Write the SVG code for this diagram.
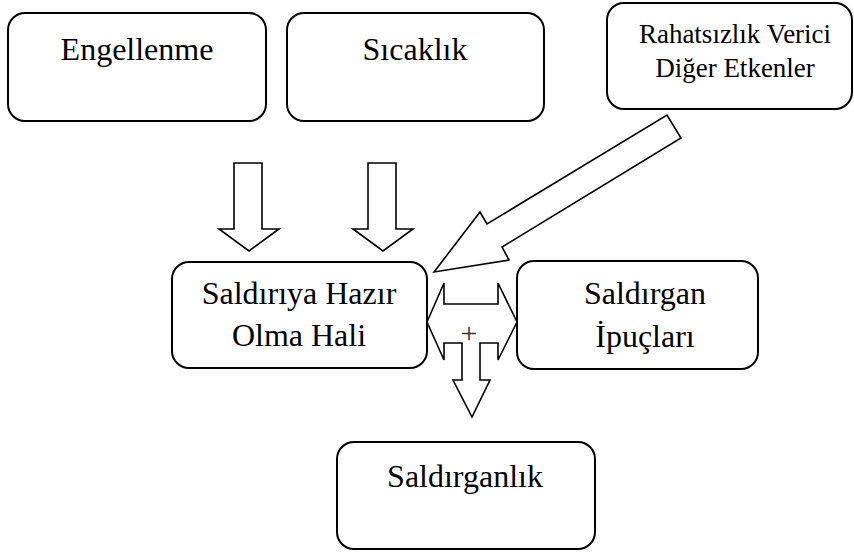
<svg xmlns="http://www.w3.org/2000/svg" width="854" height="552" viewBox="0 0 854 552" font-family="Liberation Serif, Times New Roman, DejaVu Serif, serif">
<style>
.box{fill:#fff;stroke:#000;stroke-width:2}
.t{font-family:'Liberation Serif','Times New Roman','DejaVu Serif',serif;font-size:32px;fill:#000;text-anchor:middle}
.ts{font-size:27px}
.arr{fill:#fff;stroke:#000;stroke-width:1.6;stroke-linejoin:miter}
</style>
<rect width="854" height="552" fill="#fff"/>
<g id="connectors">
<polygon class="arr" points="234,163 262,163 262,229 279,229 249,251 219,229 234,229"/>
<polygon class="arr" points="368,163 396,163 396,229 413,229 383,251 353,229 368,229"/>
<polygon class="arr" points="434,272 480,212 487,224 667,115 681,138 502,247 509,260"/>
<polygon class="arr" points="427,322 444,283 444,304 498,304 498,283 517,322 498,360 498,343 480,343 480,380 490,380 472,417 453,380 462,380 462,343 444,343 444,360"/>
<text x="469" y="343" class="t" style="font-size:30px;fill:#333">+</text>
</g>
<g id="engellenme">
<rect class="box" x="8" y="13" width="258" height="108" rx="17"/>
<text class="t" x="137" y="60">Engellenme</text>
</g>
<g id="sicaklik">
<rect class="box" x="287" y="13" width="257" height="108" rx="17"/>
<text class="t" x="415" y="60">Sıcaklık</text>
</g>
<g id="rahatsizlik">
<rect class="box" x="607" y="3" width="245" height="106" rx="17"/>
<text class="t ts" x="735" y="43">Rahatsızlık Verici</text>
<text class="t ts" x="735" y="77">Diğer Etkenler</text>
</g>
<g id="saldiriya">
<rect class="box" x="172" y="262" width="255" height="106" rx="17"/>
<text class="t" x="299" y="304">Saldırıya Hazır</text>
<text class="t" x="299" y="346">Olma Hali</text>
</g>
<g id="saldirgan-ipuclari">
<rect class="box" x="517" y="261" width="241" height="108" rx="17"/>
<text class="t" x="645" y="304">Saldırgan</text>
<text class="t" x="645" y="347">İpuçları</text>
</g>
<g id="saldirganlik">
<rect class="box" x="337" y="442" width="258" height="107" rx="17"/>
<text class="t" x="465" y="487">Saldırganlık</text>
</g>
</svg>
